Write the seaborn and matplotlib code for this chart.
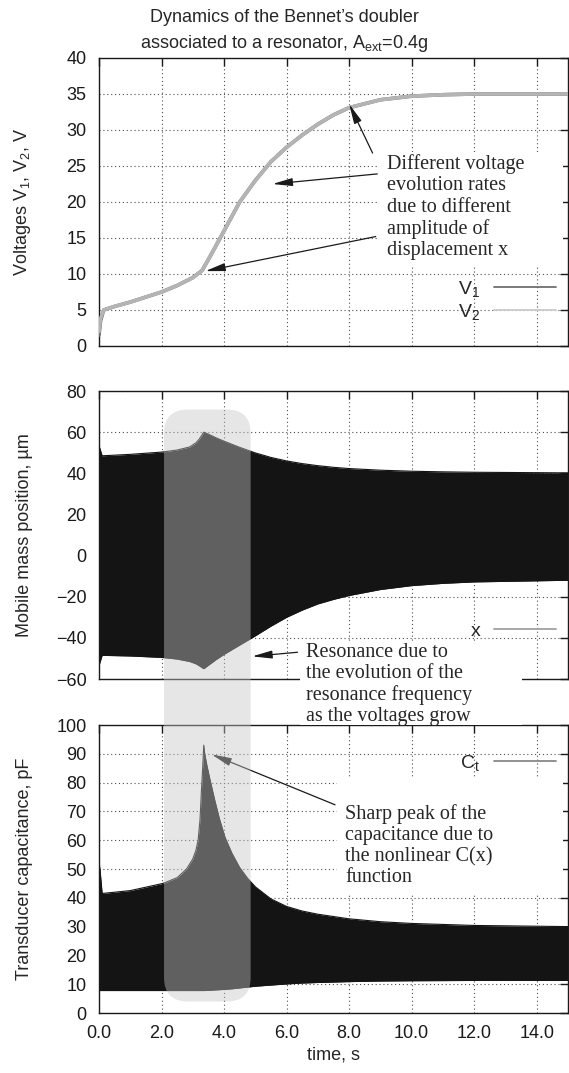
import numpy as np
import pandas as pd
import matplotlib
matplotlib.use('Agg')
import matplotlib.pyplot as plt
import seaborn as sns
from matplotlib.patches import FancyBboxPatch, Rectangle
from matplotlib.lines import Line2D

sns.set_theme(style='white')
plt.rcParams['font.family'] = ['Liberation Sans', 'DejaVu Sans']
plt.rcParams['mathtext.fontset'] = 'custom'
plt.rcParams['mathtext.rm'] = 'Liberation Sans'
plt.rcParams['mathtext.it'] = 'Liberation Sans:italic'

# ---------------- data ----------------
# Panel 1: voltages
t_v = [0.0, 0.05, 0.15, 0.5, 1.0, 1.5, 2.0, 2.5, 3.0, 3.3, 3.6, 4.0, 4.5, 5.0,
       5.5, 6.0, 6.5, 7.0, 7.5, 8.0, 9.0, 10.0, 11.0, 12.0, 13.0, 15.0]
v1 = [1.5, 3.5, 5.0, 5.5, 6.1, 6.8, 7.5, 8.4, 9.5, 10.5, 12.8, 16.0, 20.0, 23.0,
      25.6, 27.6, 29.3, 30.8, 32.1, 33.1, 34.2, 34.7, 34.9, 35.0, 35.0, 35.0]
v2 = [2.0, 3.8, 5.0, 5.5, 6.1, 6.8, 7.5, 8.4, 9.5, 10.5, 12.8, 16.0, 20.0, 23.0,
      25.6, 27.6, 29.3, 30.8, 32.1, 33.1, 34.2, 34.7, 34.9, 35.0, 35.0, 35.0]

# Panel 2: mobile mass position envelope (um)
t_x = [0.0, 0.03, 0.1, 1.0, 2.0, 2.5, 2.9, 3.1, 3.2, 3.28, 3.35, 3.5, 3.75, 4.0,
       4.5, 5.0, 5.5, 6.0, 6.5, 7.0, 7.5, 8.0, 9.0, 10.0, 11.0, 12.0, 15.0]
x_upper = [53, 52, 48.5, 49.2, 50.3, 51.3, 52.8, 54.8, 56.5, 58.3, 60, 59, 57.2,
           55.6, 52.6, 49.9, 47.7, 46.0, 44.7, 43.7, 42.9, 42.3, 41.5, 41.0, 40.7,
           40.5, 40.2]
x_lower = [-53, -52, -48.5, -48.8, -49.5, -50.3, -51.5, -52.6, -53.5, -54.3, -55,
           -53.3, -50.5, -48, -43.5, -39, -34.3, -30, -26.5, -23.5, -21.3, -19.4,
           -16.5, -14.6, -13.5, -12.8, -12]

# Panel 3: transducer capacitance envelope (pF)
t_c = [0.0, 0.03, 0.1, 1.0, 2.05, 2.5, 2.8, 3.0, 3.1, 3.17, 3.23, 3.28, 3.32,
       3.35, 3.38, 3.45, 3.55, 3.7, 3.85, 4.03, 4.25, 4.5, 4.75, 5.0, 5.5, 6.0,
       6.5, 7.0, 8.0, 9.0, 10.0, 12.0, 15.0]
c_upper = [52, 50, 41.5, 42.5, 45, 47, 50, 53.5, 56.5, 60, 67, 78, 86, 93, 90, 86,
           81, 74, 67.5, 61, 55.5, 50.5, 46.8, 43.8, 39.6, 37, 35.4, 34.3, 32.7,
           31.7, 31.1, 30.4, 30]
c_lower = [7.8, 7.8, 7.8, 7.8, 7.8, 7.8, 7.8, 7.8, 7.8, 7.8, 7.8, 7.8, 7.8, 7.8,
           7.8, 7.85, 7.9, 8.0, 8.1, 8.2, 8.4, 8.7, 9.0, 9.3, 9.7, 10.1, 10.4,
           10.6, 10.9, 11.1, 11.2, 11.3, 11.3]

# highlighted resonance region
hl_t = [2.08, 4.85]
hl_top_um = 71
hl_bottom_pF = 4

x_ticks = [0, 2, 4, 6, 8, 10, 12, 14]
x_ticklabels = ['0.0', '2.0', '4.0', '6.0', '8.0', '10.0', '12.0', '14.0']

# ---------------- figure ----------------
fig = plt.figure(figsize=(5.69, 10.73), dpi=100)
L, W, H = 99 / 569, 469 / 569, 288 / 1073
ax1 = fig.add_axes([L, 1 - 346 / 1073, W, H])
ax2 = fig.add_axes([L, 1 - 679 / 1073, W, H])
ax3 = fig.add_axes([L, 1 - 1013 / 1073, W, H])

FS = 13
AFS = 14.5
SERIF = ['Liberation Serif', 'DejaVu Serif']
grid_style = dict(color='0.3', linestyle=(0, (1, 2.5)), linewidth=0.8)

for ax in (ax1, ax2, ax3):
    ax.set_xlim(0, 15)
    ax.set_xticks(x_ticks)
    ax.grid(True, **grid_style)
    ax.set_axisbelow(True)
    ax.tick_params(direction='in', length=6, width=1, top=True, right=True,
                   labelsize=FS, pad=9, colors='k')
    for s in ax.spines.values():
        s.set_color('k')
        s.set_linewidth(1.0)
    ax.set_facecolor('white')

ax1.set_xticklabels([])
ax2.set_xticklabels([])
ax3.set_xticklabels(x_ticklabels)

arrow_kw = dict(arrowstyle='-|>,head_length=1.0,head_width=0.2', color='k', lw=0.9,
                shrinkA=0, shrinkB=0)

# Panel 1
df_v = pd.DataFrame({'t': t_v, 'V1': v1, 'V2': v2})
sns.lineplot(data=df_v, x='t', y='V1', ax=ax1, color='#707070', linewidth=2.6,
             legend=False, zorder=3)
sns.lineplot(data=df_v, x='t', y='V2', ax=ax1, color='#b4b4b4', linewidth=2.6,
             legend=False, zorder=4)
ax1.set_ylim(0, 40)
ax1.set_yticks(range(0, 41, 5))
ax1.set_xlabel('')
ax1.set_ylabel('Voltages V$_1$, V$_2$, V', fontsize=FS)
h1 = [Line2D([], [], color='#707070', lw=1.3), Line2D([], [], color='#cccccc', lw=1.3)]
ax1.legend(h1, ['V$_1$', 'V$_2$'], loc='lower right', bbox_to_anchor=(0.975, 0.085),
           frameon=False, markerfirst=False, handlelength=3.2, handletextpad=0.7,
           labelspacing=0.15, fontsize=FS + 1, borderpad=0, borderaxespad=0)
ax1.add_patch(Rectangle((8.89, 11.3), 14.84 - 8.89, 26.9 - 11.3, facecolor='white',
                        edgecolor='none', zorder=2.5))
ax1.text(9.2, 26.6, 'Different voltage\nevolution rates\ndue to different\namplitude of\ndisplacement x',
         family=SERIF, fontsize=AFS, va='top', ha='left', zorder=6, linespacing=1.15)
ax1.annotate('', xy=(8.0, 33.6), xytext=(8.75, 26.8), arrowprops=arrow_kw, zorder=6)
ax1.annotate('', xy=(5.55, 22.5), xytext=(8.9, 23.9), arrowprops=arrow_kw, zorder=6)
ax1.annotate('', xy=(3.4, 10.4), xytext=(8.85, 15.2), arrowprops=arrow_kw, zorder=6)

# Panel 2
df_x = pd.DataFrame({'t': t_x, 'up': x_upper, 'lo': x_lower})
ax2.fill_between(df_x['t'], df_x['lo'], df_x['up'], color='#141414', lw=0, zorder=2)
sns.lineplot(data=df_x, x='t', y='up', ax=ax2, color='#141414', linewidth=0.8, legend=False, zorder=2)
sns.lineplot(data=df_x, x='t', y='lo', ax=ax2, color='#141414', linewidth=0.8, legend=False, zorder=2)
ax2.set_ylim(-60, 80)
ax2.set_yticks(range(-60, 81, 20))
ax2.set_yticklabels(['\u221260', '\u221240', '\u221220', '0', '20', '40', '60', '80'])
ax2.set_xlabel('')
ax2.set_ylabel('Mobile mass position, \u00b5m', fontsize=FS)
h2 = [Line2D([], [], color='#a0a0a0', lw=1.3)]
ax2.legend(h2, ['x'], loc='lower right', bbox_to_anchor=(0.975, 0.135),
           frameon=False, markerfirst=False, handlelength=3.2, handletextpad=0.7,
           fontsize=FS + 1, borderpad=0, borderaxespad=0)
ax2.annotate('', xy=(4.9, -49), xytext=(6.35, -47), arrowprops=arrow_kw,
             annotation_clip=False, zorder=6)

# white box behind resonance text (spans gap between panels)
wb = Rectangle((6.43, -82.5), 13.53 - 6.43, 41.0, transform=ax2.transData,
               facecolor='white', edgecolor='none', zorder=2)
fig.patches.append(wb)
wb.set_figure(fig)
fig.text(6.62, -42.5, 'Resonance due to\nthe evolution of the\nresonance frequency\nas the voltages grow',
         transform=ax2.transData, family=SERIF, fontsize=AFS, va='top', ha='left',
         zorder=7, linespacing=1.15)

# Panel 3
df_c = pd.DataFrame({'t': t_c, 'up': c_upper, 'lo': c_lower})
ax3.fill_between(df_c['t'], df_c['lo'], df_c['up'], color='#141414', lw=0, zorder=2)
sns.lineplot(data=df_c, x='t', y='up', ax=ax3, color='#141414', linewidth=0.8, legend=False, zorder=2)
sns.lineplot(data=df_c, x='t', y='lo', ax=ax3, color='#141414', linewidth=0.8, legend=False, zorder=2)
ax3.set_ylim(0, 100)
ax3.set_yticks(range(0, 101, 10))
ax3.set_ylabel('Transducer capacitance, pF', fontsize=FS)
ax3.set_xlabel('time, s', fontsize=FS)
h3 = [Line2D([], [], color='#888888', lw=1.3)]
ax3.legend(h3, ['C$_\\mathrm{t}$'], loc='lower right', bbox_to_anchor=(0.975, 0.835),
           frameon=False, markerfirst=False, handlelength=3.2, handletextpad=0.7,
           fontsize=FS + 1, borderpad=0, borderaxespad=0)
ax3.add_patch(Rectangle((7.6, 41), 14.85 - 7.6, 82 - 41, facecolor='white',
                        edgecolor='none', zorder=2.5))
ax3.text(7.87, 72.6, 'Sharp peak of the\ncapacitance due to\nthe nonlinear C(x)\nfunction',
         family=SERIF, fontsize=AFS, va='top', ha='left', zorder=6, linespacing=1.15)
ax3.annotate('', xy=(3.6, 89.8), xytext=(7.55, 72.3), arrowprops=arrow_kw, zorder=6)

for ax in (ax1, ax2, ax3):
    ax.yaxis.set_label_coords(-0.14, 0.5)
ax3.xaxis.set_label_coords(0.5, -0.115)

# highlighted resonance region spanning panels 2 and 3
p_top = fig.transFigure.inverted().transform(ax2.transData.transform((hl_t[0], hl_top_um)))
p_bot = fig.transFigure.inverted().transform(ax3.transData.transform((hl_t[1], hl_bottom_pF)))
rad = 0.042
hl = FancyBboxPatch((p_top[0], p_bot[1]), p_bot[0] - p_top[0], p_top[1] - p_bot[1],
                    boxstyle='round,pad=0,rounding_size=%f' % rad,
                    transform=fig.transFigure, facecolor='#c5c5c5', alpha=0.43,
                    edgecolor='none', zorder=5, mutation_aspect=569 / 1073)
fig.patches.append(hl)
hl.set_figure(fig)

# title
fig.text(0.5, 1 - 17 / 1073, 'Dynamics of the Bennet\u2019s doubler', ha='center', va='center', fontsize=FS)
fig.text(0.5, 1 - 44 / 1073, 'associated to a resonator, A$_\\mathrm{ext}$=0.4g', ha='center',
         va='center', fontsize=FS)

fig.savefig('out.png', dpi=100)
